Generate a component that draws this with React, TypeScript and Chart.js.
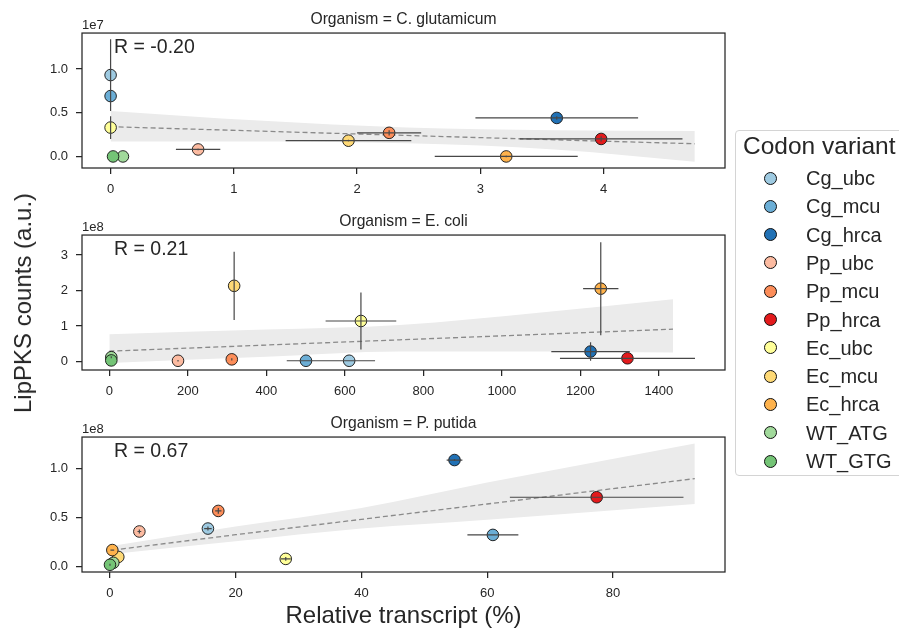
import React, { useEffect, useRef } from 'react';
import { Chart, registerables } from 'chart.js';

Chart.register(...registerables);

const FONT = "'Liberation Sans', Arial, Helvetica, sans-serif";
const INK = '#262626';

// Codon variants (legend order) and colours
const variants = ['Cg_ubc', 'Cg_mcu', 'Cg_hrca', 'Pp_ubc', 'Pp_mcu', 'Pp_hrca', 'Ec_ubc', 'Ec_mcu', 'Ec_hrca', 'WT_ATG', 'WT_GTG'];
const variantColors = ['#9ecae1', '#6baed6', '#2171b5', '#fcbba1', '#fc8d59', '#e31a1c', '#ffff99', '#fed976', '#feb24c', '#a1d99b', '#74c476'];

// Organism = C. glutamicum (LipPKS counts in units of 1e7)
const cgX = [0, 0, 3.62, 0.71, 2.26, 3.98, 0, 1.93, 3.21, 0.1, 0.02];
const cgY = [0.93, 0.69, 0.44, 0.08, 0.27, 0.2, 0.33, 0.18, 0.0, 0.0, 0.0];
const cgXErr = [0, 0, 0.66, 0.18, 0.26, 0.66, 0, 0.51, 0.58, 0, 0];
const cgYErr = [0.41, 0, 0.02, 0.01, 0.03, 0.03, 0.13, 0.01, 0.01, 0, 0];
const cgFitX = [0, 1.2, 2.4, 3.6, 4.74];
const cgFitY = [0.34, 0.29, 0.24, 0.19, 0.145];
const cgFitLow = [0.17, 0.17, 0.15, 0.08, -0.06];
const cgFitHigh = [0.52, 0.41, 0.33, 0.3, 0.29];
const cgXTicks = [0, 1, 2, 3, 4];
const cgYTicks = [0, 0.5, 1.0];

// Organism = E. coli (LipPKS counts in units of 1e8)
const ecX = [611, 501, 1226, 175, 312, 1320, 641, 318, 1252, 5, 5];
const ecY = [0.02, 0.02, 0.28, 0.02, 0.06, 0.09, 1.14, 2.13, 2.05, 0.12, 0.03];
const ecXErr = [66, 49, 100, 0, 0, 172, 90, 0, 45, 0, 0];
const ecYErr = [0, 0, 0.26, 0.02, 0.03, 0, 0.8, 0.96, 1.31, 0.03, 0];
const ecFitX = [0, 400, 740, 1100, 1436];
const ecFitY = [0.29, 0.463, 0.61, 0.765, 0.91];
const ecFitLow = [-0.04, 0.13, 0.28, 0.28, 0.25];
const ecFitHigh = [0.77, 0.9, 1.03, 1.38, 1.75];
const ecXTicks = [0, 200, 400, 600, 800, 1000, 1200, 1400];
const ecYTicks = [0, 1, 2, 3];

// Organism = P. putida (LipPKS counts in units of 1e8)
const ppX = [15.6, 60.9, 54.8, 4.7, 17.25, 77.4, 27.97, 1.35, 0.4, 0.56, 0.03];
const ppY = [0.39, 0.325, 1.09, 0.36, 0.57, 0.71, 0.08, 0.1, 0.17, 0.04, 0.02];
const ppXErr = [0.6, 4.05, 1.25, 0.3, 0.5, 13.8, 0.8, 0, 0.3, 0, 0];
const ppYErr = [0.02, 0, 0.01, 0.02, 0.03, 0, 0.02, 0, 0, 0, 0.01];
const ppFitX = [0.5, 20, 40, 60, 93];
const ppFitY = [0.17, 0.327, 0.484, 0.641, 0.9];
const ppFitLow = [0.13, 0.26, 0.39, 0.48, 0.64];
const ppFitHigh = [0.215, 0.41, 0.6, 0.86, 1.26];
const ppXTicks = [0, 20, 40, 60, 80];
const ppYTicks = [0, 0.5, 1.0];

type PanelDef = {
  title: string;
  rText: string;
  offsetText: string;
  x: number[]; y: number[]; xErr: number[]; yErr: number[];
  fitX: number[]; fitY: number[]; fitLow: number[]; fitHigh: number[];
  xTicks: number[]; yTicks: number[]; yDigits: number;
  xMin: number; xMax: number; yMin: number; yMax: number;
  xTitle?: string;
};

const panels: PanelDef[] = [
  {
    title: 'Organism = C. glutamicum', rText: 'R = -0.20', offsetText: '1e7',
    x: cgX, y: cgY, xErr: cgXErr, yErr: cgYErr,
    fitX: cgFitX, fitY: cgFitY, fitLow: cgFitLow, fitHigh: cgFitHigh,
    xTicks: cgXTicks, yTicks: cgYTicks, yDigits: 1,
    xMin: -0.232, xMax: 4.985, yMin: -0.132, yMax: 1.41,
  },
  {
    title: 'Organism = E. coli', rText: 'R = 0.21', offsetText: '1e8',
    x: ecX, y: ecY, xErr: ecXErr, yErr: ecYErr,
    fitX: ecFitX, fitY: ecFitY, fitLow: ecFitLow, fitHigh: ecFitHigh,
    xTicks: ecXTicks, yTicks: ecYTicks, yDigits: 0,
    xMin: -69.6, xMax: 1568.5, yMin: -0.24, yMax: 3.56,
  },
  {
    title: 'Organism = P. putida', rText: 'R = 0.67', offsetText: '1e8',
    x: ppX, y: ppY, xErr: ppXErr, yErr: ppYErr,
    fitX: ppFitX, fitY: ppFitY, fitLow: ppFitLow, fitHigh: ppFitHigh,
    xTicks: ppXTicks, yTicks: ppYTicks, yDigits: 1,
    xMin: -4.42, xMax: 97.8, yMin: -0.054, yMax: 1.325,
    xTitle: 'Relative transcript (%)',
  },
];

function errorSegments(xs: number[], ys: number[], xe: number[], ye: number[]) {
  const pts: { x: number; y: number | null }[] = [];
  xs.forEach((x, i) => {
    if (xe[i] > 0) pts.push({ x: x - xe[i], y: ys[i] }, { x: x + xe[i], y: ys[i] }, { x, y: null });
    if (ye[i] > 0) pts.push({ x, y: ys[i] - ye[i] }, { x, y: ys[i] + ye[i] }, { x, y: null });
  });
  return pts;
}

const panelDecor = {
  id: 'panelDecor',
  afterDatasetsDraw(chart: any, _args: any, opts: any) {
    const { ctx, chartArea: a } = chart;
    ctx.save();
    ctx.strokeStyle = INK;
    ctx.lineWidth = 1.25;
    ctx.strokeRect(a.left, a.top, a.right - a.left, a.bottom - a.top);
    ctx.fillStyle = INK;
    ctx.textAlign = 'left';
    ctx.textBaseline = 'middle';
    ctx.font = `13px ${FONT}`;
    ctx.fillText(opts.offsetText, a.left, a.top - 8);
    ctx.font = `19.5px ${FONT}`;
    ctx.fillText(opts.rText, a.left + 32, a.top + 15);
    ctx.restore();
  },
};

const PLOT_BOTTOM = 168;

function PanelChart({ p, top, height }: { p: PanelDef; top: number; height: number }) {
  const ref = useRef<HTMLCanvasElement>(null);
  useEffect(() => {
    const pts = p.x.map((x, i) => ({ x, y: p.y[i] }));
    const chart = new Chart(ref.current as HTMLCanvasElement, {
      type: 'scatter',
      data: {
        datasets: [
          {
            type: 'line',
            data: p.fitX.map((x, i) => ({ x, y: p.fitHigh[i] })),
            borderColor: 'rgba(0,0,0,0)',
            borderWidth: 0,
            pointRadius: 0,
            fill: '+1',
            backgroundColor: '#ebebeb',
            cubicInterpolationMode: 'monotone',
            order: 4,
          } as any,
          {
            type: 'line',
            data: p.fitX.map((x, i) => ({ x, y: p.fitLow[i] })),
            borderColor: 'rgba(0,0,0,0)',
            borderWidth: 0,
            pointRadius: 0,
            fill: false,
            cubicInterpolationMode: 'monotone',
            order: 3,
          } as any,
          {
            type: 'line',
            data: p.fitX.map((x, i) => ({ x, y: p.fitY[i] })),
            borderColor: '#8a8a8a',
            borderWidth: 1.3,
            borderDash: [5, 3],
            pointRadius: 0,
            fill: false,
            order: 2,
          } as any,
          {
            type: 'scatter',
            data: pts,
            pointRadius: 5.8,
            pointBorderWidth: 0.9,
            pointBorderColor: '#111',
            pointBackgroundColor: variantColors,
            order: 1,
          } as any,
          {
            type: 'line',
            data: errorSegments(p.x, p.y, p.xErr, p.yErr),
            borderColor: '#474747',
            borderWidth: 1.2,
            pointRadius: 0,
            spanGaps: false,
            fill: false,
            order: 0,
          } as any,
        ],
      },
      options: {
        animation: false,
        responsive: false,
        devicePixelRatio: 1,
        events: [],
        layout: { padding: { left: 0, right: 174, top: 0, bottom: 0 } },
        plugins: {
          legend: { display: false },
          tooltip: { enabled: false },
          title: {
            display: true,
            text: p.title,
            fullSize: false,
            color: INK,
            font: { family: FONT, size: 15.7, weight: 'normal' as any },
            padding: { top: 10, bottom: 4.2 },
          },
          panelDecor: { offsetText: p.offsetText, rText: p.rText },
        } as any,
        scales: {
          x: {
            type: 'linear',
            min: p.xMin,
            max: p.xMax,
            afterBuildTicks: (s: any) => { s.ticks = p.xTicks.map((v) => ({ value: v })); },
            afterFit: (s: any) => { s.height = height - PLOT_BOTTOM; },
            grid: { display: true, drawOnChartArea: false, drawTicks: true, tickLength: 6, color: INK, lineWidth: 1.25 },
            border: { display: false },
            ticks: {
              autoSkip: false, maxRotation: 0, padding: 8, color: INK,
              font: { family: FONT, size: 13 },
              callback: (v: any) => String(v),
            },
            title: p.xTitle
              ? { display: true, text: p.xTitle, color: INK, font: { family: FONT, size: 24 }, padding: { top: 0, bottom: 0 } }
              : { display: false },
          },
          y: {
            type: 'linear',
            min: p.yMin,
            max: p.yMax,
            afterBuildTicks: (s: any) => { s.ticks = p.yTicks.map((v) => ({ value: v })); },
            afterFit: (s: any) => { s.width = 82; },
            grid: { display: true, drawOnChartArea: false, drawTicks: true, tickLength: 6, color: INK, lineWidth: 1.25 },
            border: { display: false },
            ticks: {
              autoSkip: false, padding: 8, color: INK,
              font: { family: FONT, size: 13 },
              callback: (v: any) => Number(v).toFixed(p.yDigits),
            },
          },
        },
      } as any,
      plugins: [panelDecor as any],
    });
    return () => chart.destroy();
  }, []);
  return (
    <canvas
      ref={ref}
      width={899}
      height={height}
      style={{ position: 'absolute', left: 0, top, width: 899, height, display: 'block' }}
    />
  );
}

function Legend() {
  return (
    <div
      style={{
        position: 'absolute', left: 735, top: 130, width: 180, height: 346,
        border: '1px solid #d4d4d4', borderRadius: 4, background: '#fff', boxSizing: 'border-box',
      }}
    >
      <div
        style={{
          position: 'absolute', left: 7, top: 15, transform: 'translateY(-50%)',
          fontFamily: FONT, fontSize: 24.5, color: INK, whiteSpace: 'nowrap', lineHeight: 1,
        }}
      >
        Codon variant
      </div>
      {variants.map((v, i) => (
        <div key={v} style={{ position: 'absolute', left: 0, top: 47 + 28.3 * i, height: 0 }}>
          <span
            style={{
              position: 'absolute', left: 34 - 6.5, top: -6.5, width: 13, height: 13, borderRadius: '50%',
              background: variantColors[i], border: '1px solid #111', boxSizing: 'border-box',
            }}
          />
          <span
            style={{
              position: 'absolute', left: 70, top: 0, transform: 'translateY(-50%)',
              fontFamily: FONT, fontSize: 20, color: INK, whiteSpace: 'nowrap', lineHeight: 1,
            }}
          >
            {v}
          </span>
        </div>
      ))}
    </div>
  );
}

export default function App() {
  return (
    <div
      style={{
        position: 'absolute', left: 0, top: 0, width: 899, height: 631,
        overflow: 'hidden', background: '#fff',
      }}
    >
      <PanelChart p={panels[0]} top={0} height={202} />
      <PanelChart p={panels[1]} top={202} height={202} />
      <PanelChart p={panels[2]} top={404} height={227} />
      <div
        style={{
          position: 'absolute', left: 23, top: 303, transform: 'translate(-50%, -50%) rotate(-90deg)',
          fontFamily: FONT, fontSize: 24, color: INK, whiteSpace: 'nowrap', lineHeight: 1,
        }}
      >
        LipPKS counts (a.u.)
      </div>
      <Legend />
    </div>
  );
}
